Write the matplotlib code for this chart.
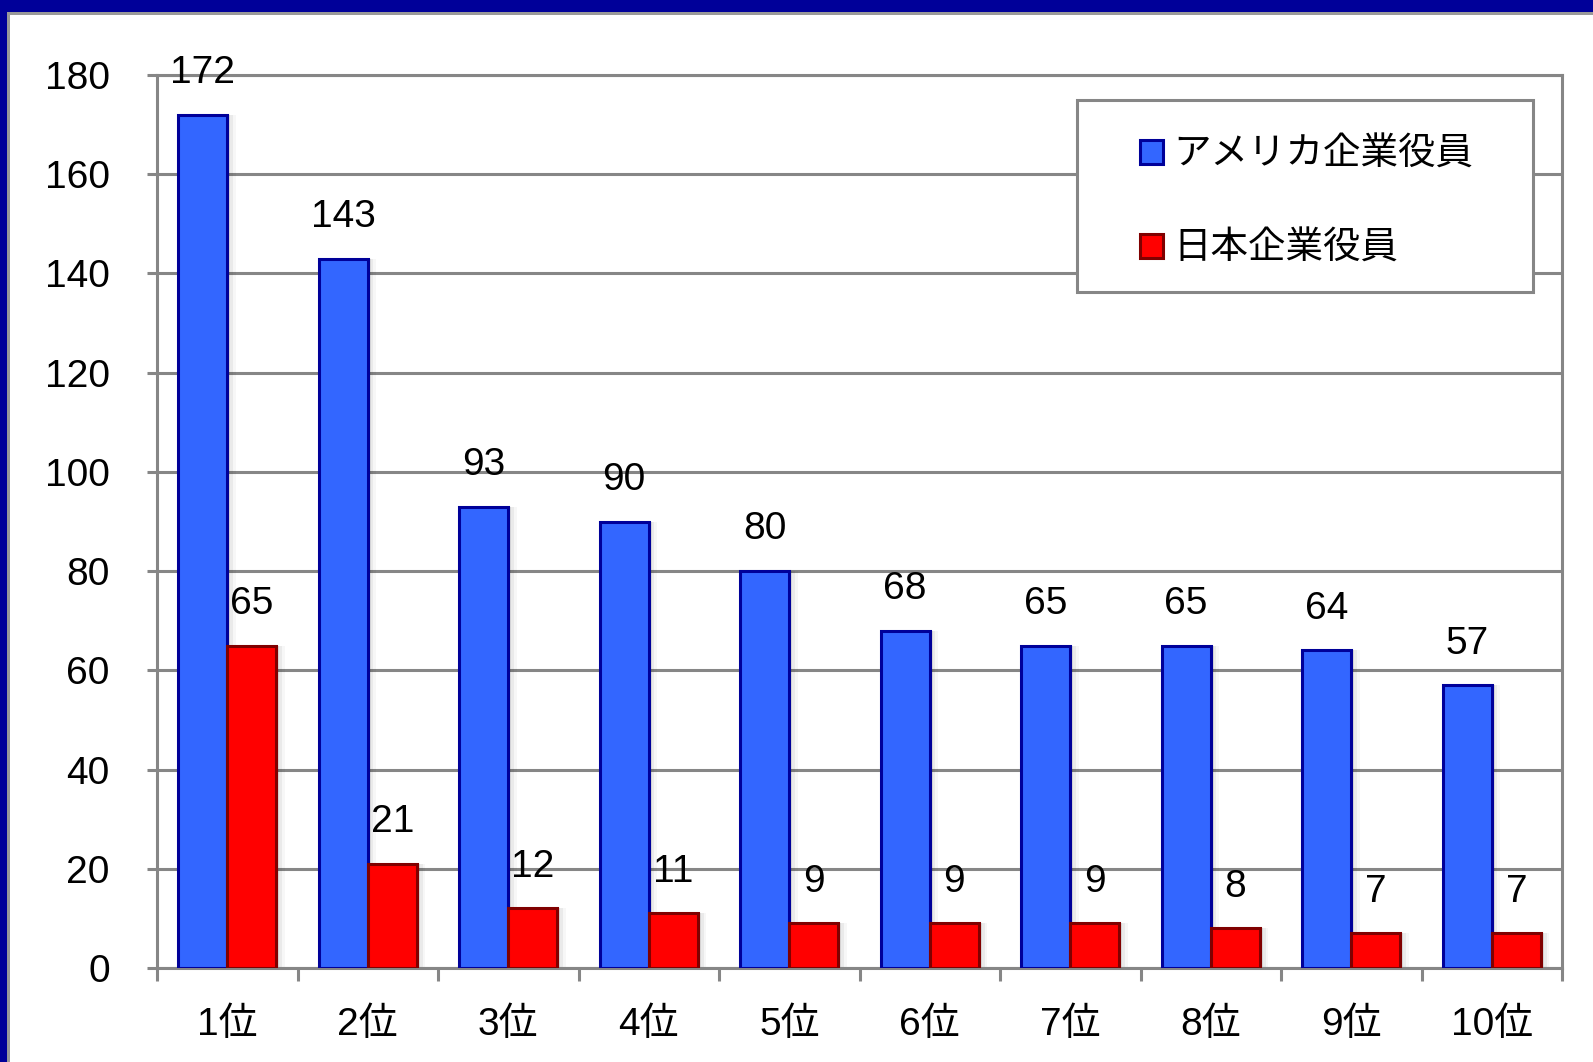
import numpy as np
import matplotlib.pyplot as plt
from matplotlib.patches import Rectangle

plt.rcParams['font.family'] = ['Liberation Sans', 'Noto Sans CJK JP', 'DejaVu Sans']

ranks = ['1位', '2位', '3位', '4位', '5位', '6位', '7位', '8位', '9位', '10位']
us_execs = [172, 143, 93, 90, 80, 68, 65, 65, 64, 57]
jp_execs = [65, 21, 12, 11, 9, 9, 9, 8, 7, 7]
series_names = ['アメリカ企業役員', '日本企業役員']

W, H = 1593, 1062
fig = plt.figure(figsize=(W / 100, H / 100), dpi=100)
ax = fig.add_axes([157 / W, 1 - 968 / H, (1562 - 157) / W, (968 - 75) / H])

x = np.arange(len(ranks))
bw = 0.35
off = 0.175

# soft drop shadow to the right of each bar
for k, a in zip([0.02, 0.04, 0.06], [0.07, 0.05, 0.03]):
    ax.bar(x - off + k, us_execs, bw, color='black', alpha=a, lw=0, zorder=2)
    ax.bar(x + off + k, jp_execs, bw, color='black', alpha=a, lw=0, zorder=2)

b1 = ax.bar(x - off, us_execs, bw, color='#3366ff', edgecolor='#000099', lw=2.2, zorder=3)
b2 = ax.bar(x + off, jp_execs, bw, color='#ff0000', edgecolor='#800000', lw=2.2, zorder=3)

for xs, vals in [(x - off, us_execs), (x + off, jp_execs)]:
    for xi, v in zip(xs, vals):
        ax.annotate(str(v), xy=(xi, v), xytext=(0, 30), textcoords='offset points',
                    ha='center', va='center', fontsize=28, zorder=4)

ax.set_xlim(-0.5, 9.5)
ax.set_ylim(0, 180)
ax.set_yticks(np.arange(0, 181, 20))
ax.set_xticks(x)
ax.set_xticklabels(ranks)
ax.set_xticks(np.arange(-0.5, 10, 1), minor=True)
ax.tick_params(axis='x', which='major', length=0, pad=28, labelsize=28)
ax.tick_params(axis='x', which='minor', length=9, width=2.2, color='#868686')
ax.tick_params(axis='y', length=7, width=2.2, color='#868686', pad=27, labelsize=28)

ax.grid(axis='y', color='#868686', lw=2.2, zorder=1)
ax.set_axisbelow(True)
for s in ax.spines.values():
    s.set_color('#868686')
    s.set_linewidth(2.2)

# legend frame
fig.add_artist(Rectangle((1077 / W, 1 - 292 / H), (1533 - 1077) / W, (292 - 100) / H,
                         transform=fig.transFigure, facecolor='white',
                         edgecolor='#868686', lw=2.2, zorder=5))
leg = fig.legend([b1, b2], series_names, loc='center left',
                 bbox_to_anchor=(1140 / W, 1 - 202 / H), frameon=False,
                 fontsize=27, handlelength=0.6, handleheight=0.6,
                 handletextpad=0.3, labelspacing=1.55, borderaxespad=0, borderpad=0)
leg.set_zorder(6)

# page border
fig.add_artist(Rectangle((0, 1 - 15 / H), 1, 15 / H, transform=fig.transFigure,
                         facecolor='#999999', lw=0, zorder=10))
fig.add_artist(Rectangle((0, 1 - 12 / H), 1, 12 / H, transform=fig.transFigure,
                         facecolor='#000099', lw=0, zorder=11))
fig.add_artist(Rectangle((0, 0), 10 / W, 1, transform=fig.transFigure,
                         facecolor='#999999', lw=0, zorder=10))
fig.add_artist(Rectangle((0, 0), 7 / W, 1, transform=fig.transFigure,
                         facecolor='#000099', lw=0, zorder=11))

fig.savefig('out.png', dpi=100)
